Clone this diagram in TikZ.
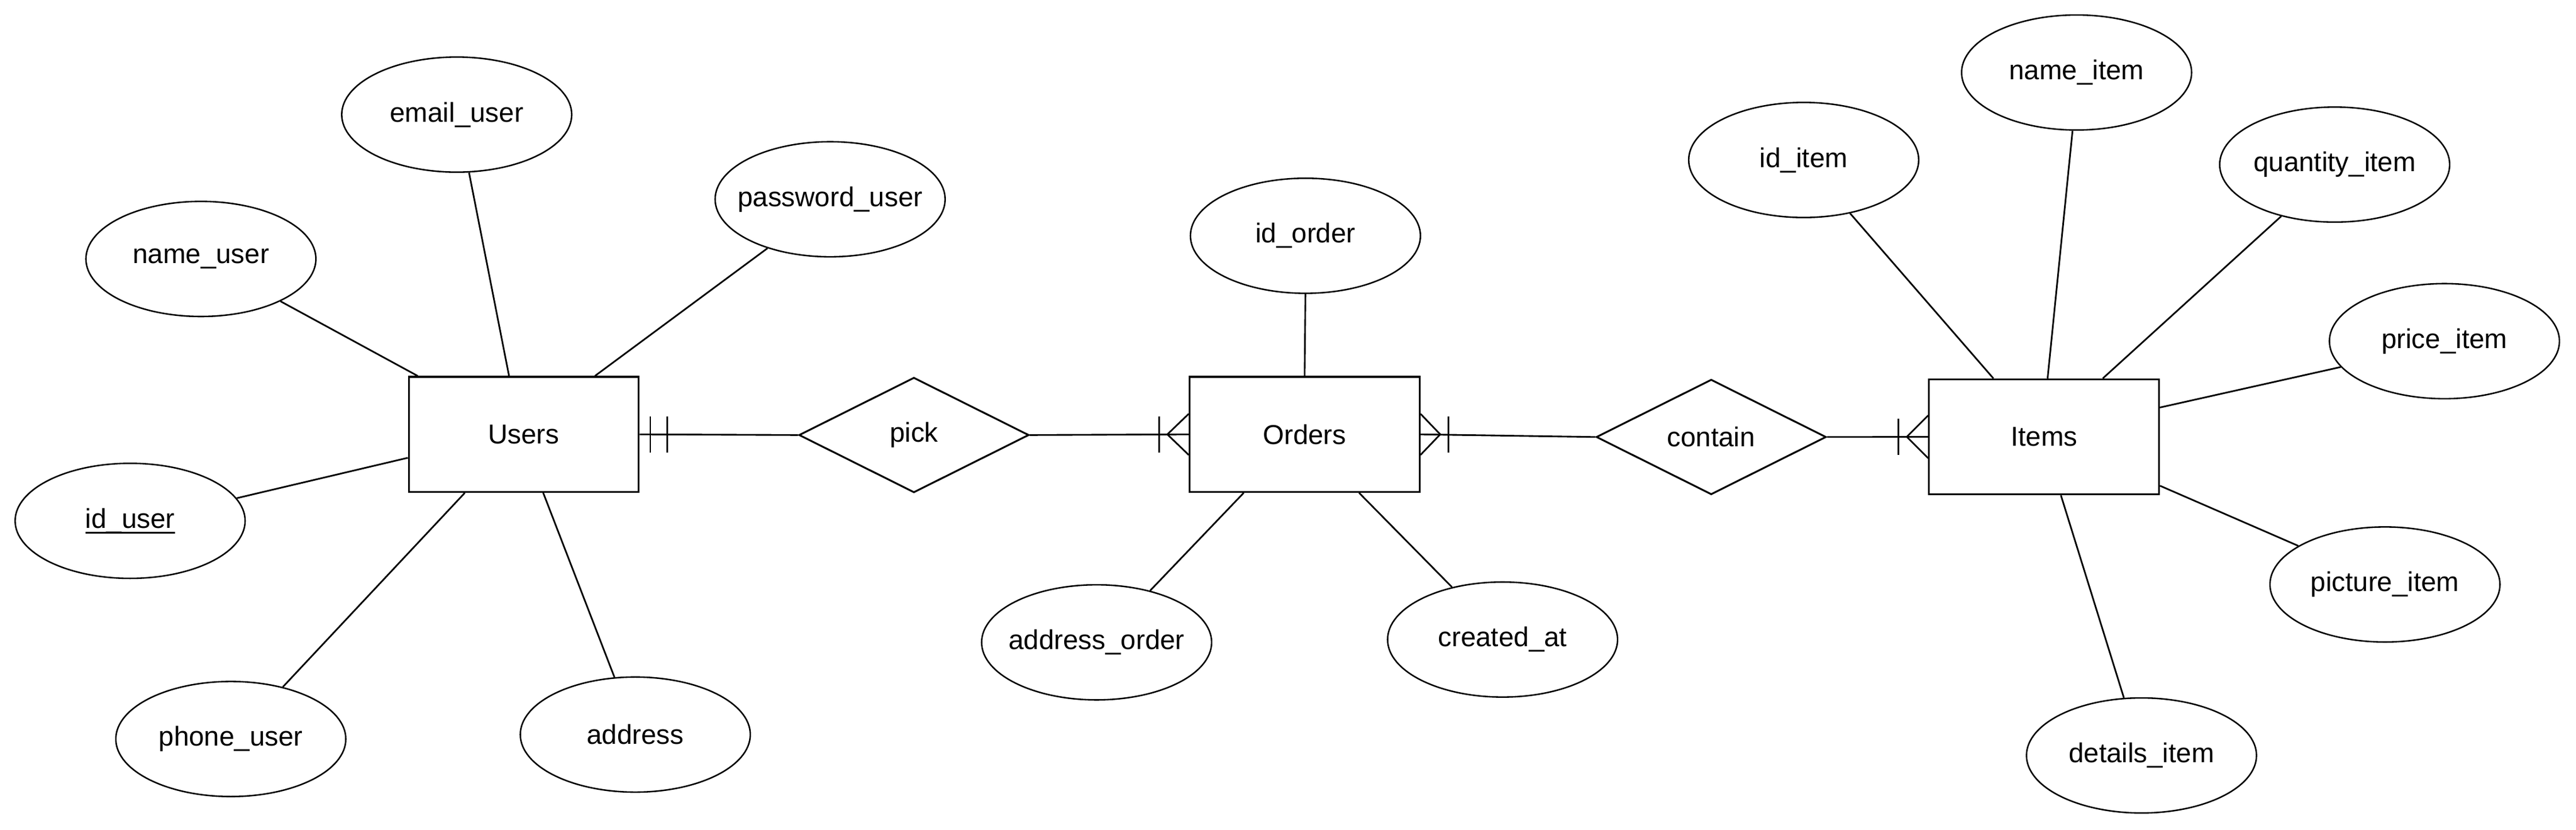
\documentclass[tikz,border=0pt]{standalone}
\usepackage{fontspec}
\setmainfont{Liberation Sans}
\usetikzlibrary{shapes.geometric,calc}
\begin{document}
\begin{tikzpicture}[x=1pt,y=-1pt,
  every node/.style={font=\fontsize{16.6}{20}\selectfont},
  ent/.style={draw,line width=1.1pt,minimum width=140pt,minimum height=70pt,inner sep=0pt},
  attr/.style={draw,ellipse,line width=0.9pt,minimum width=140pt,minimum height=70pt,inner sep=0pt},
  rel/.style={draw,diamond,line width=1.1pt,minimum width=140pt,minimum height=70pt,inner sep=0pt},
  conn/.style={line width=1pt},
]
\useasboundingbox (0,0) rectangle (1568,504.5);

% entities and relationships
\node[ent] (users) at (318.8,264.2) {Users};
\node[ent] (orders) at (794.1,264.2) {Orders};
\node[ent] (items) at (1244.2,265.7) {Items};
\node[rel] (pick) at (556.3,264.6) {\makebox[0pt]{pick}};
\node[rel] (contain) at (1041.6,265.8) {\makebox[0pt]{contain}};

% Users attributes
\node[attr] (emailuser) at (278,69.7) {\makebox[0pt]{email\_user}};
\node[attr] (nameuser) at (122.3,157.5) {\makebox[0pt]{name\_user}};
\node[attr] (passworduser) at (505.3,121.2) {\makebox[0pt]{password\_user}};
\node[attr] (iduser) at (79.2,316.8) {\makebox[0pt]{\setbox0\hbox{id\_user}\rlap{\copy0}\raisebox{-3.4pt}{\rule{\wd0}{1.1pt}}}};
\node[attr] (phoneuser) at (140.5,449.5) {\makebox[0pt]{phone\_user}};
\node[attr] (address) at (386.7,446.8) {\makebox[0pt]{address}};

% Orders attributes
\node[attr] (idorder) at (794.6,143.4) {\makebox[0pt]{id\_order}};
\node[attr] (addressorder) at (667.5,390.7) {\makebox[0pt]{address\_order}};
\node[attr] (createdat) at (914.6,389) {\makebox[0pt]{created\_at}};

% Items attributes
\node[attr] (nameitem) at (1264,44.1) {\makebox[0pt]{name\_item}};
\node[attr] (iditem) at (1097.9,97.3) {\makebox[0pt]{id\_item}};
\node[attr] (quantityitem) at (1421.1,100.1) {\makebox[0pt]{quantity\_item}};
\node[attr] (priceitem) at (1487.9,207.5) {\makebox[0pt]{price\_item}};
\node[attr] (pictureitem) at (1451.7,355.5) {\makebox[0pt]{picture\_item}};
\node[attr] (detailsitem) at (1303.5,459.5) {\makebox[0pt]{details\_item}};

% Users connectors
\draw[conn] (nameuser.-28.6) -- ([xshift=6pt]users.north west);
\draw[conn] (emailuser.-78.9) -- ([xshift=61.6pt]users.north west);
\draw[conn] (passworduser.-142.8) -- ([xshift=113.9pt]users.north west);
\draw[conn] (iduser.12.9) -- ([yshift=-49.8pt]users.north west);
\draw[conn] (phoneuser.45.8) -- ([xshift=34.7pt]users.south west);
\draw[conn] (address.110.4) -- ([xshift=82.4pt]users.south west);

% Orders connectors
\draw[conn] (idorder.-90) -- (orders.north);
\draw[conn] (addressorder.44.7) -- ([xshift=33.5pt]orders.south west);
\draw[conn] (createdat.134.2) -- ([xshift=103.7pt]orders.south west);

% Items connectors
\draw[conn] (iditem.-49.1) -- ([xshift=39.7pt]items.north west);
\draw[conn] (nameitem.-94.9) -- ([xshift=72.7pt]items.north west);
\draw[conn] (quantityitem.-136.7) -- ([xshift=106.3pt]items.north west);
\draw[conn] (priceitem.-166.5) -- ([yshift=-17.7pt]items.north east);
\draw[conn] (pictureitem.156.3) -- ([yshift=-65.3pt]items.north east);
\draw[conn] (detailsitem.107.1) -- ([xshift=80.8pt]items.south west);

% relationship connectors
\draw[conn] (users.east) -- (pick.west);
\draw[conn] (pick.east) -- (orders.west);
\draw[conn] (orders.east) -- (contain.west);
\draw[conn] (contain.east) -- (items.west);

% cardinality: Users side (mandatory one)
\draw[conn] ([xshift=6.5pt,yshift=11pt]users.east) -- ([xshift=6.5pt,yshift=-11pt]users.east);
\draw[conn] ([xshift=16.7pt,yshift=11pt]users.east) -- ([xshift=16.7pt,yshift=-11pt]users.east);

% cardinality: Orders west (one or many)
\draw[conn] ([xshift=-18pt,yshift=11pt]orders.west) -- ([xshift=-18pt,yshift=-11pt]orders.west);
\draw[conn] ([yshift=12.5pt]orders.west) -- ([xshift=-13pt]orders.west) -- ([yshift=-12.5pt]orders.west);

% cardinality: Orders east (one or many)
\draw[conn] ([xshift=17pt,yshift=11pt]orders.east) -- ([xshift=17pt,yshift=-11pt]orders.east);
\draw[conn] ([yshift=12.5pt]orders.east) -- ([xshift=12pt]orders.east) -- ([yshift=-12.5pt]orders.east);

% cardinality: Items west (one or many)
\draw[conn] ([xshift=-18pt,yshift=11pt]items.west) -- ([xshift=-18pt,yshift=-11pt]items.west);
\draw[conn] ([yshift=13pt]items.west) -- ([xshift=-13pt]items.west) -- ([yshift=-13pt]items.west);
\end{tikzpicture}
\end{document}
